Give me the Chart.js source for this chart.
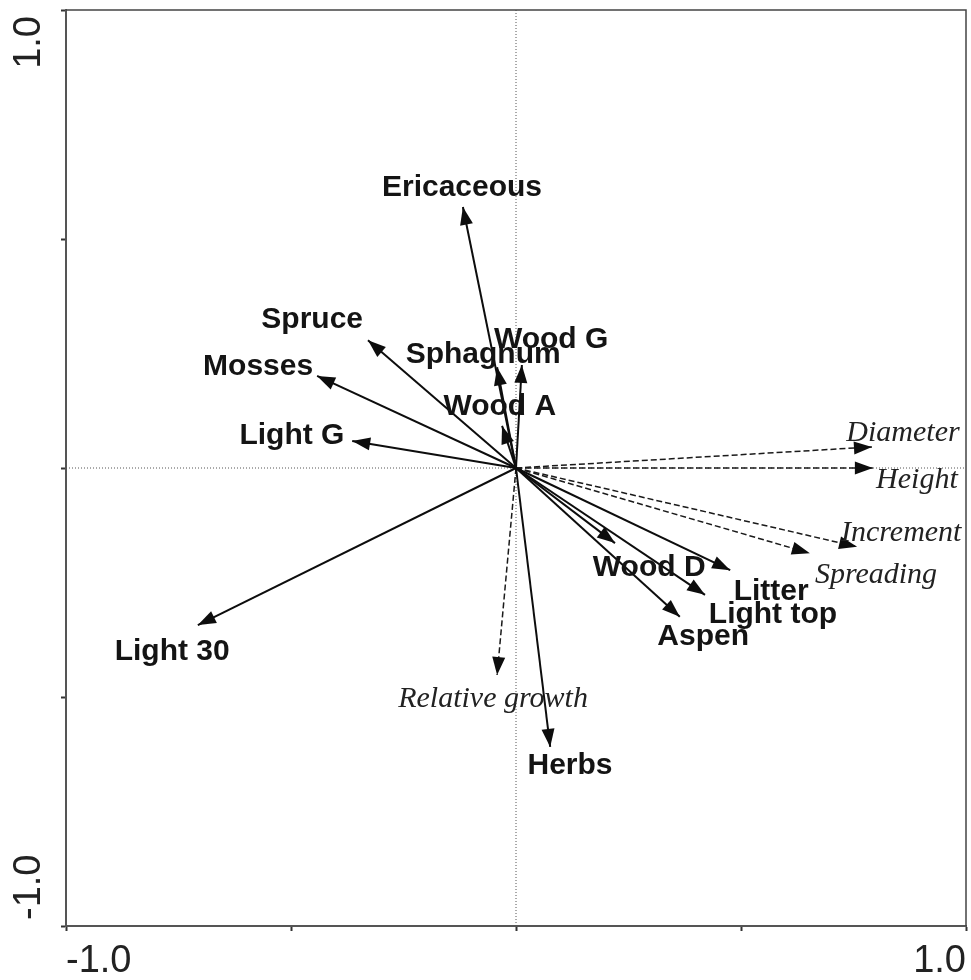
<!DOCTYPE html>
<html>
<head>
<meta charset="utf-8">
<script src="https://cdn.jsdelivr.net/npm/chart.js@4.4.1/dist/chart.umd.min.js"></script>
<style>
  html, body { margin: 0; padding: 0; background: #fff; }
</style>
</head>
<body>
<canvas id="biplot" width="971" height="980"></canvas>
<script>
// explanatory vectors (solid arrows)
const envNames = ["Ericaceous", "Spruce", "Mosses", "Light G", "Light 30", "Sphagnum", "Wood G",
  "Wood A", "Wood D", "Litter", "Light top", "Aspen", "Herbs"];
const envX = [-0.118, -0.329, -0.442, -0.364, -0.707, -0.042, 0.013, -0.031, 0.220, 0.476, 0.420, 0.364, 0.076];
const envY = [0.570, 0.279, 0.201, 0.059, -0.343, 0.220, 0.225, 0.092, -0.164, -0.223, -0.277, -0.325, -0.609];
const envLabelX = [-0.120, -0.453, -0.573, -0.498, -0.764, -0.073, 0.078, -0.036, 0.296, 0.567, 0.571, 0.416, 0.120];
const envLabelY = [0.616, 0.328, 0.225, 0.074, -0.397, 0.251, 0.284, 0.138, -0.214, -0.266, -0.317, -0.365, -0.646];

// response variables (dashed arrows)
const respNames = ["Diameter", "Height", "Increment", "Spreading", "Relative growth"];
const respX = [0.791, 0.793, 0.758, 0.653, -0.042];
const respY = [0.046, 0.000, -0.172, -0.186, -0.452];
const respLabelX = [0.860, 0.891, 0.856, 0.800, -0.051];
const respLabelY = [0.081, -0.022, -0.138, -0.229, -0.500];

// axes
const axisTicks = [-1, -0.5, 0, 0.5, 1];
const tickLabel = v => (v === 1 ? "1.0" : v === -1 ? "-1.0" : "");

const datasets = [];
envNames.forEach((n, i) => datasets.push({
  label: n,
  data: [{ x: 0, y: 0 }, { x: envX[i], y: envY[i] }],
  showLine: true, pointRadius: 0, borderColor: '#0d0d0d', borderWidth: 2
}));
respNames.forEach((n, i) => datasets.push({
  label: n,
  data: [{ x: 0, y: 0 }, { x: respX[i], y: respY[i] }],
  showLine: true, pointRadius: 0, borderColor: '#1a1a1a', borderWidth: 1.5, borderDash: [6, 3]
}));

// dotted zero lines, arrowheads, labels, frame, rotated y tick labels
const biplotDecor = {
  id: 'biplotDecor',
  beforeDatasetsDraw(chart) {
    const { ctx, chartArea: a, scales: { x, y } } = chart;
    const x0 = x.getPixelForValue(0), y0 = y.getPixelForValue(0);
    ctx.save();
    ctx.strokeStyle = '#555'; ctx.lineWidth = 1; ctx.setLineDash([1, 2]);
    ctx.beginPath();
    ctx.moveTo(a.left, y0); ctx.lineTo(a.right, y0);
    ctx.moveTo(x0, a.top); ctx.lineTo(x0, a.bottom);
    ctx.stroke();
    ctx.restore();
  },
  afterDatasetsDraw(chart) {
    const { ctx, chartArea: a, scales: { x, y } } = chart;
    ctx.save();
    ctx.fillStyle = '#0d0d0d';
    chart.data.datasets.forEach((ds, i) => {
      const pts = chart.getDatasetMeta(i).data;
      const p0 = pts[0], p1 = pts[1];
      const ang = Math.atan2(p1.y - p0.y, p1.x - p0.x);
      const c = Math.cos(ang), s = Math.sin(ang), L = 18, W = 6.5;
      ctx.beginPath();
      ctx.moveTo(p1.x, p1.y);
      ctx.lineTo(p1.x - L * c + W * s, p1.y - L * s - W * c);
      ctx.lineTo(p1.x - L * c - W * s, p1.y - L * s + W * c);
      ctx.closePath();
      ctx.fill();
    });

    ctx.textAlign = 'center';
    ctx.textBaseline = 'middle';
    ctx.fillStyle = '#141414';
    ctx.font = 'bold 30px "Liberation Sans", Arial, sans-serif';
    envNames.forEach((n, i) => {
      ctx.fillText(n, x.getPixelForValue(envLabelX[i]), y.getPixelForValue(envLabelY[i]) + 2);
    });
    ctx.fillStyle = '#222';
    ctx.font = 'italic 30px "Liberation Serif", "Times New Roman", serif';
    respNames.forEach((n, i) => {
      ctx.fillText(n, x.getPixelForValue(respLabelX[i]), y.getPixelForValue(respLabelY[i]) + 2);
    });

    // top and right sides of the frame
    ctx.strokeStyle = '#444'; ctx.lineWidth = 1.5;
    ctx.beginPath();
    ctx.moveTo(a.left, a.top); ctx.lineTo(a.right, a.top); ctx.lineTo(a.right, a.bottom);
    ctx.stroke();

    // y tick labels, rotated and kept inside the axis span
    ctx.fillStyle = '#222';
    ctx.font = '38px "Liberation Sans", Arial, sans-serif';
    y.ticks.forEach(t => {
      const txt = tickLabel(t.value);
      if (!txt) return;
      ctx.save();
      ctx.translate(30, y.getPixelForValue(t.value));
      ctx.rotate(-Math.PI / 2);
      ctx.textAlign = t.value > 0 ? 'right' : 'left';
      ctx.textBaseline = 'middle';
      ctx.fillText(txt, t.value > 0 ? -6 : 6, 0);
      ctx.restore();
    });
    ctx.restore();
  }
};

const gridOpts = { drawOnChartArea: false, tickLength: 5, tickWidth: 2, tickColor: '#333' };

new Chart(document.getElementById('biplot'), {
  type: 'scatter',
  data: { datasets },
  options: {
    responsive: false,
    animation: false,
    layout: { padding: { top: 10, right: 5, left: 0, bottom: 0 } },
    plugins: { legend: { display: false }, tooltip: { enabled: false } },
    scales: {
      x: {
        type: 'linear', position: 'bottom', min: -1, max: 1,
        afterBuildTicks: s => { s.ticks = axisTicks.map(v => ({ value: v })); },
        afterFit: s => { s.height = 54; s.paddingLeft = 0; s.paddingRight = 0; },
        ticks: {
          callback: v => tickLabel(v), align: 'inner', padding: 8, maxRotation: 0, autoSkip: false,
          color: '#222', font: { family: '"Liberation Sans", Arial, sans-serif', size: 38 }
        },
        grid: gridOpts,
        border: { color: '#555', width: 2 }
      },
      y: {
        type: 'linear', position: 'left', min: -1, max: 1,
        afterBuildTicks: s => { s.ticks = axisTicks.map(v => ({ value: v })); },
        afterFit: s => { s.width = 66; s.paddingTop = 0; s.paddingBottom = 0; },
        ticks: { display: false },
        grid: gridOpts,
        border: { color: '#555', width: 2 }
      }
    }
  },
  plugins: [biplotDecor]
});
</script>
</body>
</html>
